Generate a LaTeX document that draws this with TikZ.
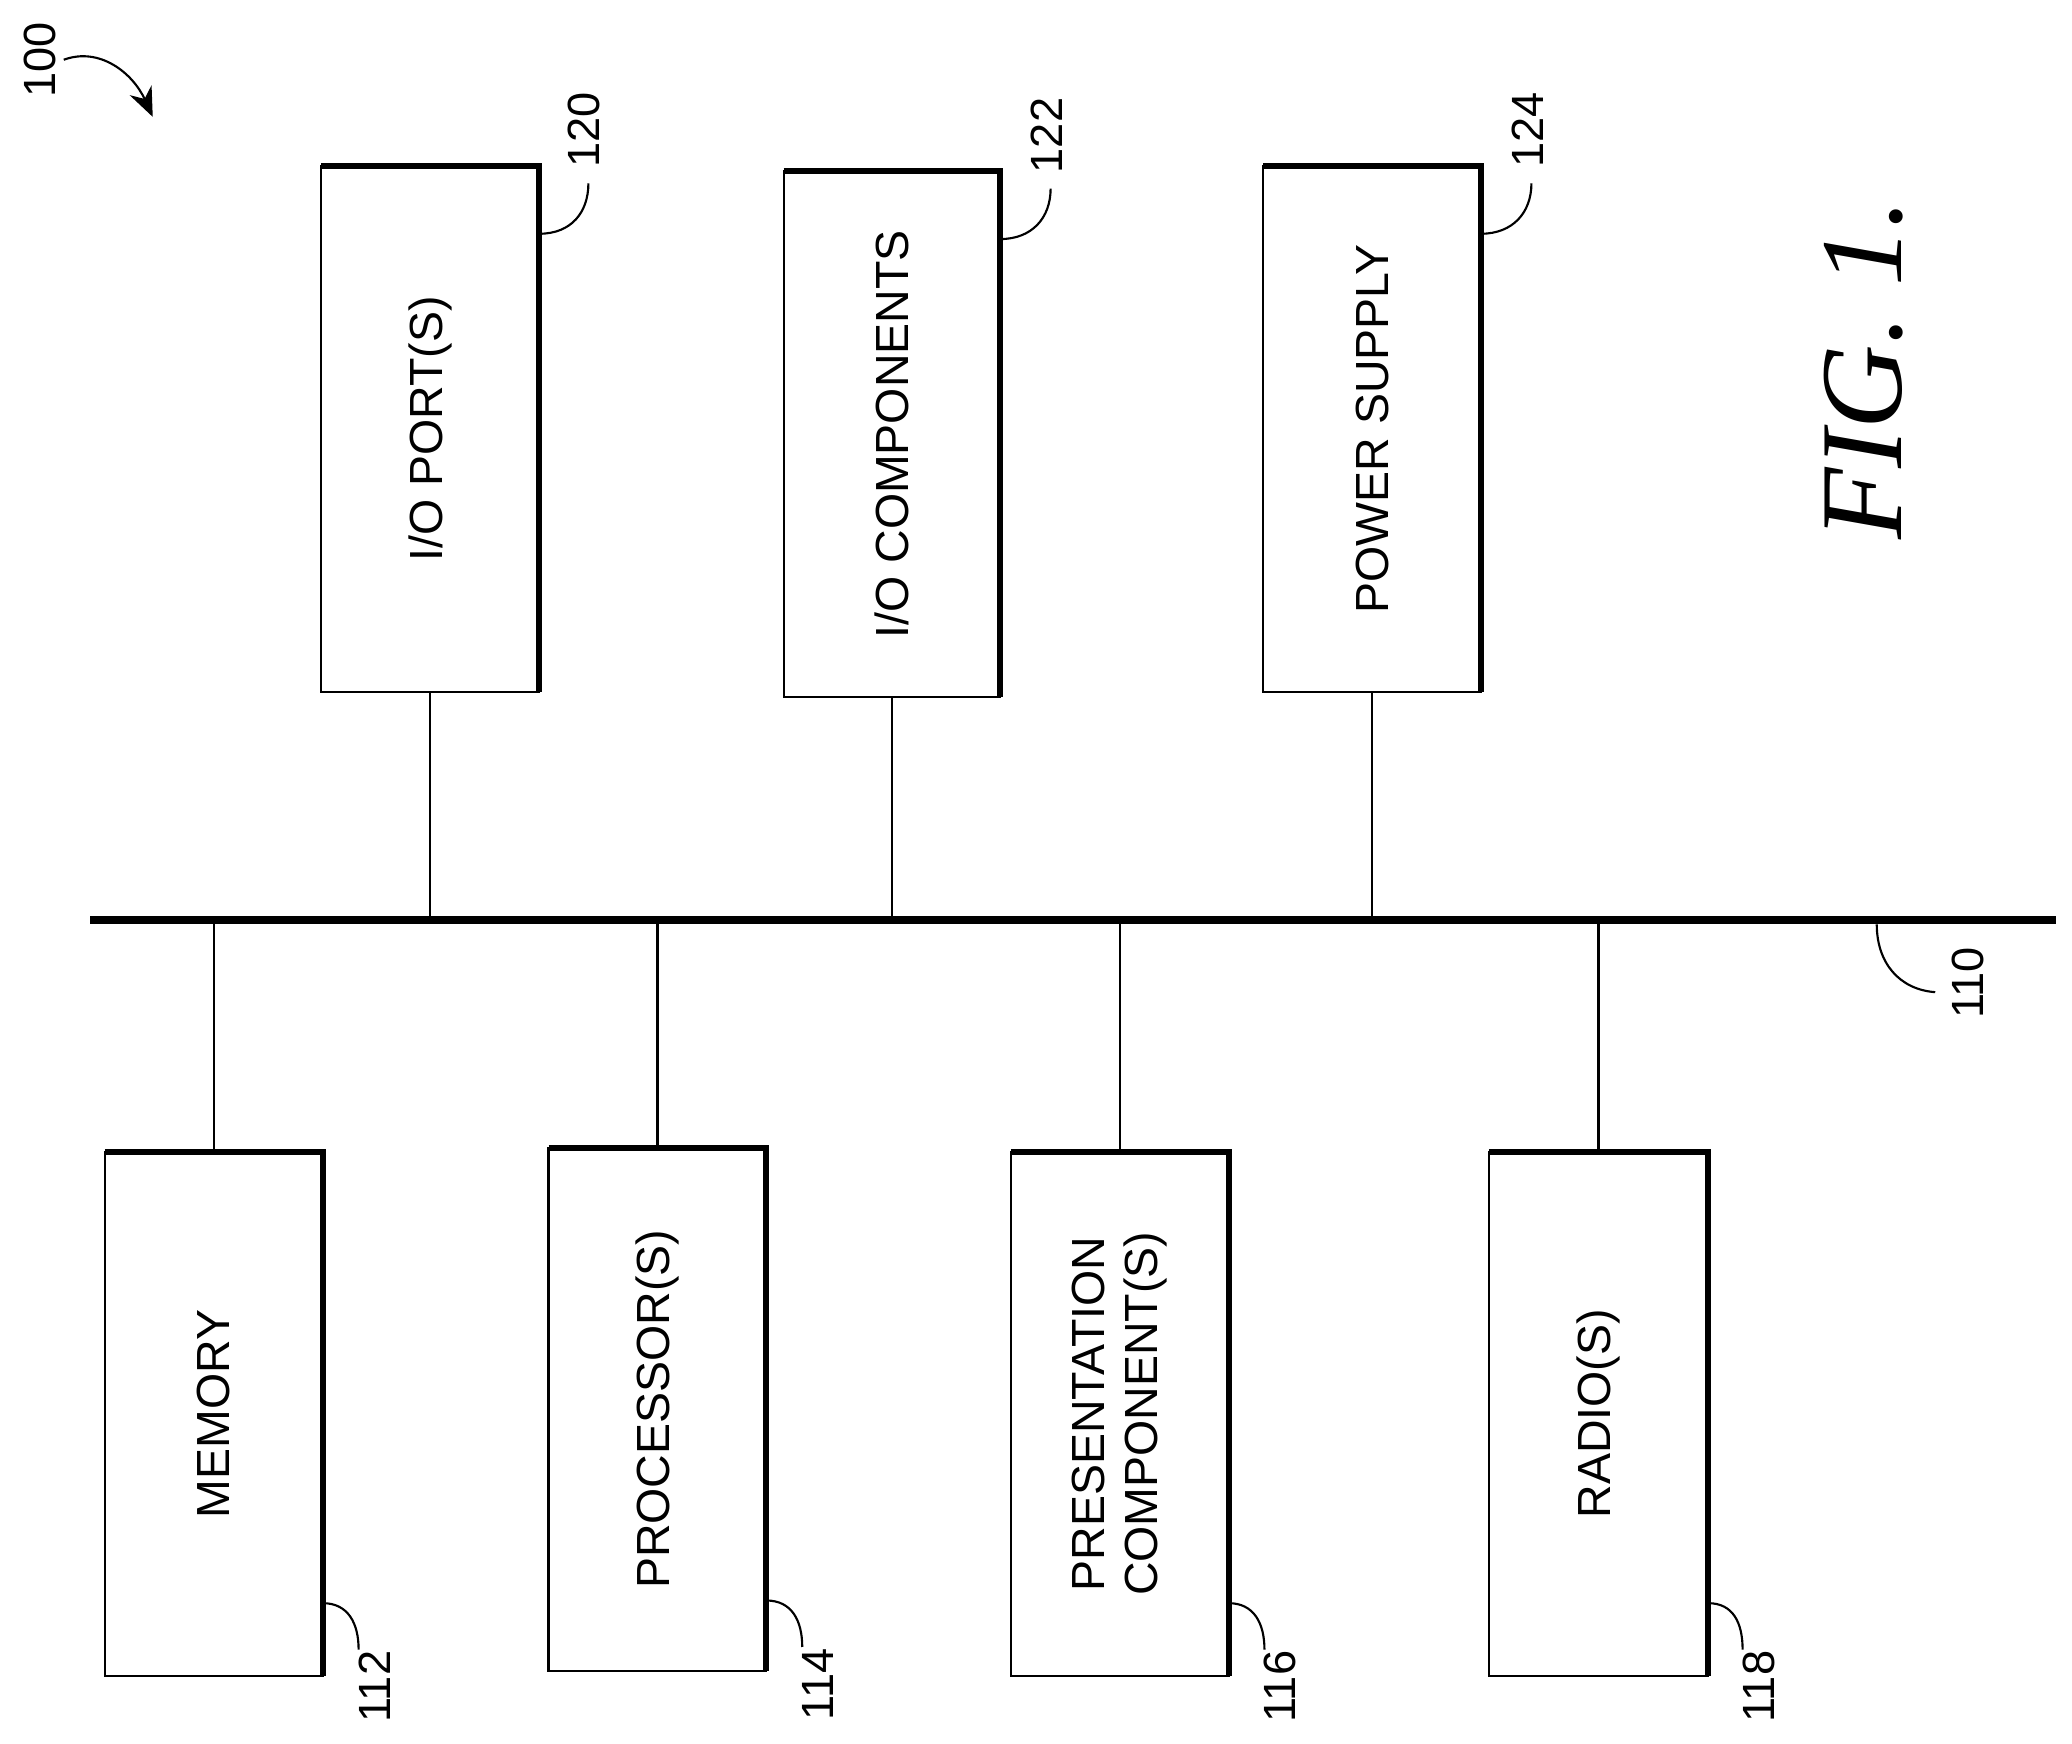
\documentclass[tikz,border=0pt]{standalone}
\usepackage{fontspec}
\setmainfont{Liberation Sans}
\newfontfamily\figfont{Liberation Serif}
\usetikzlibrary{arrows.meta}
\begin{document}
\begin{tikzpicture}[x=1pt,y=-1pt,
  txt/.style={font=\fontsize{35}{40}\selectfont,rotate=90},
  num/.style={font=\fontsize{34}{38}\selectfont,rotate=90},
  lead/.style={line width=1.6pt},
  conn/.style={line width=1.6pt}]
\useasboundingbox (0,0) rectangle (1560,1313);
\newcommand{\mybox}[6]{%
  \draw[line width=1.6pt] (#2,#3) rectangle (#4,#5);
  \draw[line width=4.5pt] (#2,#3) -- (#4,#3) -- (#4,#5);
  \node[txt,align=center] (#1) at ({(#2+#4)/2},{(#3+#5)/2}) {#6};
  \coordinate (#1t) at ({(#2+#4)/2},#3);
  \coordinate (#1b) at ({(#2+#4)/2},#5);}
\mybox{ioport}{242}{125}{406}{521}{I/O PORT(S)}
\mybox{iocomp}{590}{129}{753}{525}{I/O COMPONENTS}
\mybox{power}{951}{125}{1115}{521}{POWER SUPPLY}
\mybox{mem}{79}{867}{243}{1262}{MEMORY}
\mybox{proc}{413}{864}{577}{1258}{PROCESSOR(S)}
\mybox{pres}{761}{867}{925}{1262}{PRESENTATION\\COMPONENT(S)}
\mybox{radio}{1121}{867}{1286}{1262}{RADIO(S)}
% bus
\coordinate (busl) at (68,693);
\coordinate (busr) at (1548,693);
\draw[line width=6pt] (busl) -- (busr);
\foreach \n in {ioport,iocomp,power}{\draw[conn] (\n b) -- (\n b |- busl);}
\foreach \n in {mem,proc,pres,radio}{\draw[conn] (\n t) -- (\n t |- busl);}
% reference numbers
\node[num] (n120) at (440,98) {120};
\node[num] (n122) at (788,102) {122};
\node[num] (n124) at (1150,98) {124};
\coordinate (e120) at (443,138);
\coordinate (e122) at (791,142);
\coordinate (e124) at (1153,138);
\draw[lead] (406,176) .. controls (430,176) and (443,160) .. (e120);
\draw[lead] (753,180) .. controls (777,180) and (791,164) .. (e122);
\draw[lead] (1115,176) .. controls (1139,176) and (1153,160) .. (e124);
\node[num] (n112) at (282,1270) {112};
\node[num] (n114) at (616,1268) {114};
\node[num] (n116) at (964,1270) {116};
\node[num] (n118) at (1324,1270) {118};
\coordinate (e112) at (270,1242);
\coordinate (e114) at (604,1240);
\coordinate (e116) at (952,1242);
\coordinate (e118) at (1312,1242);
\draw[lead] (243,1207) .. controls (262,1207) and (270,1222) .. (e112);
\draw[lead] (577,1205) .. controls (596,1205) and (604,1220) .. (e114);
\draw[lead] (925,1207) .. controls (944,1207) and (952,1222) .. (e116);
\draw[lead] (1286,1207) .. controls (1305,1207) and (1312,1222) .. (e118);
\node[num] (n110) at (1482,740) {110};
\coordinate (b110) at (1413,696);
\coordinate (e110) at (1457,747);
\draw[lead] (b110) .. controls (1413,725) and (1430,745) .. (e110);
\node[num] (n100) at (30,45) {100};
\coordinate (a100) at (48,45);
\coordinate (t100) at (115,88);
\draw[lead,-{Stealth[length=22pt,width=18pt]}] (a100) .. controls (75,35) and (100,55) .. (t100);
\node[rotate=90,font=\figfont\itshape\fontsize{88}{94}\selectfont] (fig) at (1403,278) {FIG. 1.};
\end{tikzpicture}
\end{document}
